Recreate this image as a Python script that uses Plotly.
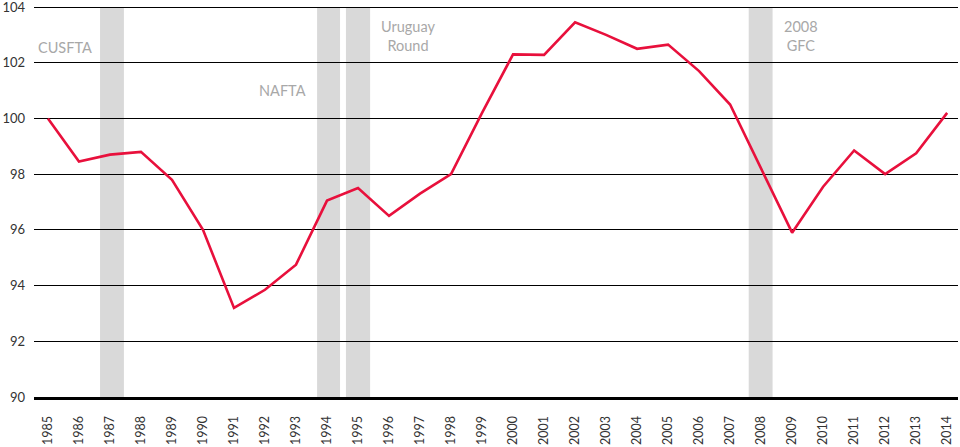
import plotly.graph_objects as go

# index values, 1985 = 100
years = list(range(1985, 2015))
index_values = [100.0, 98.45, 98.7, 98.8, 97.8, 96.0, 93.2, 93.85, 94.75, 97.05,
                97.5, 96.5, 97.3, 98.0, 100.2, 102.3, 102.28, 103.45, 103.0, 102.5,
                102.65, 101.7, 100.5, 98.2, 95.9, 97.55, 98.85, 98.0, 98.75, 100.2]
y_ticks = [90, 92, 94, 96, 98, 100, 102, 104]

# shaded event bands (start, end in years)
band_start = [1986.68, 1993.68, 1994.61, 2007.6]
band_end = [1987.45, 1994.42, 1995.39, 2008.37]

event_labels = ["CUSFTA", "NAFTA", "Uruguay<br>Round", "2008<br>GFC"]
event_x = [1985.55, 1992.55, 1996.6, 2009.3]
event_y = [102.53, 101.0, 102.95, 102.95]

fig = go.Figure()
fig.add_trace(go.Scatter(x=years, y=index_values, mode='lines',
                         line=dict(color='#e8103c', width=2.6),
                         hoverinfo='x+y'))

for x0, x1 in zip(band_start, band_end):
    fig.add_shape(type='rect', xref='x', yref='y', x0=x0, x1=x1, y0=90, y1=104,
                  fillcolor='#d9d9d9', line_width=0, layer='below')

for txt, ax, ay in zip(event_labels, event_x, event_y):
    fig.add_annotation(x=ax, y=ay, text=txt, showarrow=False,
                       font=dict(size=14.5, color='#a8a8a8'))

# plot area: 104 sits 7px from the top, 90 at 397px
fig.update_layout(
    width=960, height=447,
    margin=dict(l=34, r=2, t=4, b=50),
    plot_bgcolor='white', paper_bgcolor='white',
    showlegend=False,
    font=dict(family='Lato, sans-serif', size=13, color='#333'),
    xaxis=dict(range=[1984.55, 2014.35], tickmode='array', tickvals=years,
               ticktext=[str(y) for y in years], tickangle=-90,
               tickfont=dict(size=12.5),
               showgrid=False, zeroline=False, showline=True,
               linecolor='black', linewidth=3, ticks='',
               ticklabelstandoff=11, automargin=False),
    yaxis=dict(range=[90, 104.108], tickmode='array', tickvals=y_ticks,
               showgrid=True, gridcolor='black',
               gridwidth=1.3, zeroline=False, showline=False, ticks='',
               ticklabelstandoff=8, ticklabeloverflow='allow',
               automargin=False),
)

# page body has an 8px default margin; drop it so the chart sits at 0,0
fig.write_html("out.html", config={'displayModeBar': False},
               post_script="document.body.style.margin='0';")
